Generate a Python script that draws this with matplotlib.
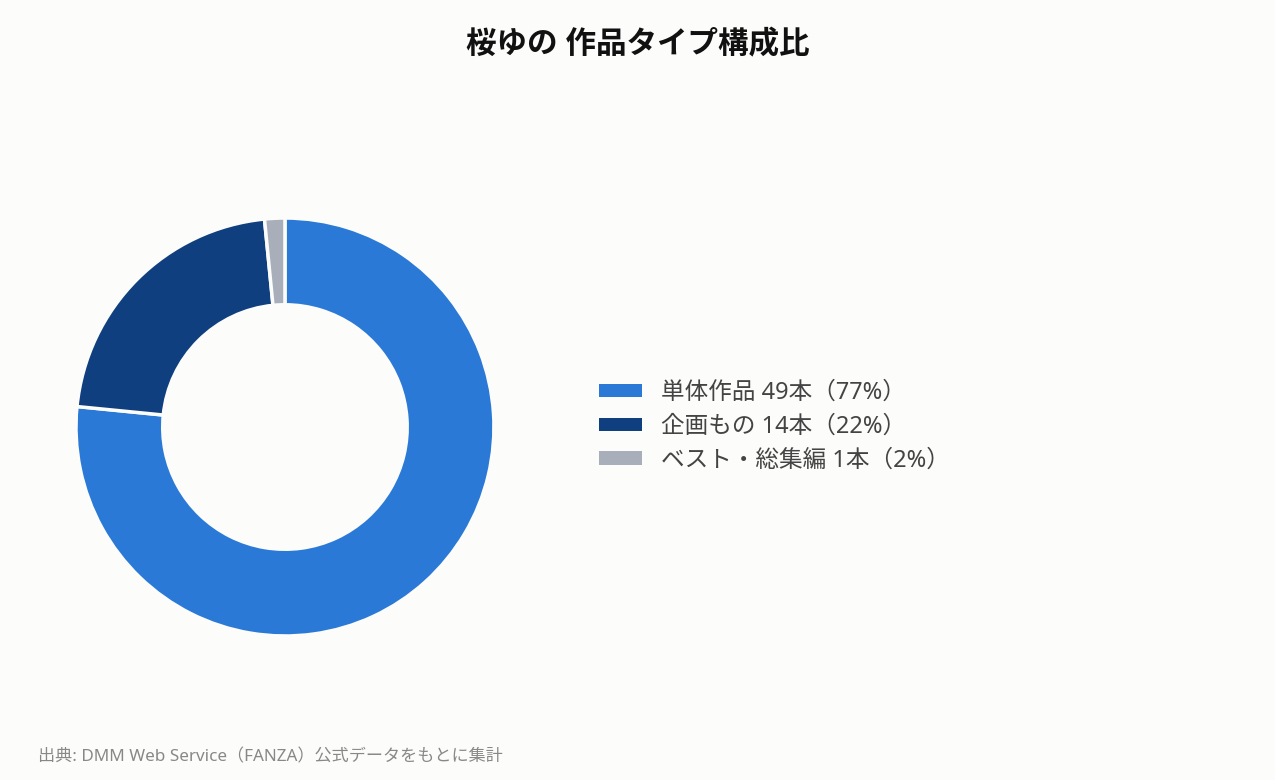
import matplotlib
matplotlib.use("Agg")
import matplotlib.pyplot as plt
from matplotlib.patches import Patch

plt.rcParams['font.family'] = ['Noto Sans', 'Noto Sans CJK JP', 'DejaVu Sans']

# データ
labels = ['単体作品', '企画もの', 'ベスト・総集編']
counts = [49, 14, 1]
percents = [77, 22, 2]
colors = ['#2a79d7', '#0f3f7f', '#a8afba']
title = '桜ゆの 作品タイプ構成比'
source = '出典: DMM Web Service（FANZA）公式データをもとに集計'

bg = '#fcfcfa'
fig = plt.figure(figsize=(12.75, 7.8), dpi=100, facecolor=bg)

ax = fig.add_axes([0.0596, 0.1846, 0.3278, 0.5359])
ax.set_facecolor(bg)
wedges, _ = ax.pie(counts, colors=colors, startangle=90, counterclock=False,
                   radius=1.0,
                   wedgeprops=dict(width=0.415, edgecolor=bg, linewidth=2.5))
ax.set_xlim(-1, 1)
ax.set_ylim(-1, 1)
ax.set_aspect('equal')
ax.axis('off')

leg_labels = [f'{l} {c}本（{p}%）' for l, c, p in zip(labels, counts, percents)]
handles = [Patch(facecolor=c, edgecolor='none') for c in colors]
fig.legend(handles, leg_labels, loc='center left', bbox_to_anchor=(0.4535, 0.453),
           frameon=False, fontsize=17, labelcolor='#444444',
           handlelength=1.8, handleheight=0.5, handletextpad=0.8,
           labelspacing=0.42)

fig.text(0.5, 0.942, title, ha='center', va='center', fontsize=22,
         fontweight='bold', color='#111111')
fig.text(0.030, 0.029, source, ha='left', va='center', fontsize=12.3,
         color='#888888')

fig.savefig('out.png', dpi=100, facecolor=bg)
